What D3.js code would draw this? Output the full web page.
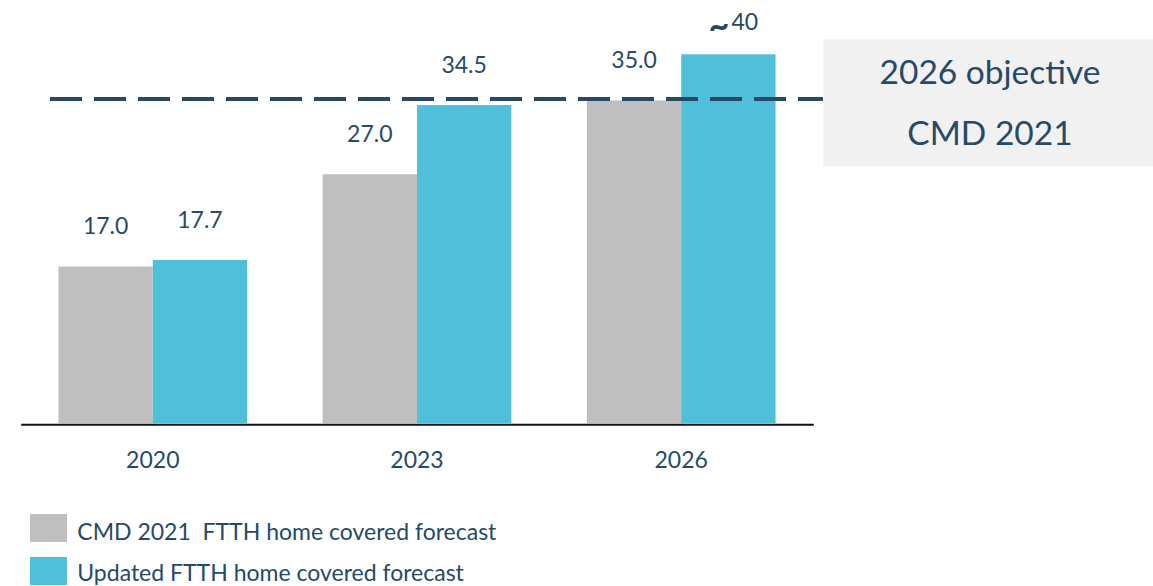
<!DOCTYPE html>
<html>
<head>
<meta charset="utf-8">
<script src="https://cdn.jsdelivr.net/npm/d3@7/dist/d3.min.js"></script>
<style>
  html, body { margin: 0; padding: 0; background: #fff; }
  svg { display: block; font-family: Lato, "Open Sans", sans-serif; }
</style>
</head>
<body>
<svg id="chart" width="1153" height="586"></svg>
<script>
// FTTH homes covered (millions), per year
const years = ["2020", "2023", "2026"];
const cmd2021 = [17.0, 27.0, 35.0];
const updated = [17.7, 34.5, 40];
const updatedLabels = ["17.7", "34.5", "40"];
const cmdLabels = ["17.0", "27.0", "35.0"];
const objective = 35.0;
const seriesNames = ["CMD 2021  FTTH home covered forecast", "Updated FTTH home covered forecast"];
const objectiveLines = ["2026 objective", "CMD 2021"];

const colors = { cmd: "#bfbfbf", upd: "#50bfda", text: "#264a66", dash: "#264a66", box: "#f1f1f1" };

const svg = d3.select("#chart");

const x = d3.scaleBand().domain(years).range([20.7, 813.3]).paddingInner(0.286).paddingOuter(0.143);
const xs = d3.scaleBand().domain(["cmd", "upd"]).range([0, x.bandwidth()]).padding(0);
const y = d3.scaleLinear().domain([0, 40]).range([423.3, 54.3]);

const rows = years.map((yr, i) => ({
  year: yr,
  vals: [
    { key: "cmd", v: cmd2021[i], label: cmdLabels[i] },
    { key: "upd", v: updated[i], label: updatedLabels[i], approx: yr === "2026" }
  ]
}));

// bars
const g = svg.append("g");
const groups = g.selectAll("g.grp").data(rows).join("g")
  .attr("class", "grp")
  .attr("transform", d => `translate(${x(d.year)},0)`);

groups.selectAll("rect").data(d => d.vals).join("rect")
  .attr("x", d => xs(d.key))
  .attr("width", xs.bandwidth())
  .attr("y", d => y(d.v))
  .attr("height", d => y(0) - y(d.v))
  .attr("fill", d => colors[d.key]);

// value labels
groups.selectAll("text.val").data(d => d.vals).join("text")
  .attr("class", "val")
  .attr("text-anchor", "middle")
  .attr("font-size", 23)
  .attr("fill", colors.text)
  .each(function (d) {
    const t = d3.select(this);
    const cx = xs(d.key) + xs.bandwidth() / 2;
    if (d.approx) {
      // approximate value: tilde sits a little below the digits' mid-height
      t.attr("x", cx + 5).attr("y", y(d.v) - 24);
      t.append("tspan").attr("font-size", 36).attr("font-weight", "bold").attr("dy", 8).text("~");
      t.append("tspan").attr("dy", -8).attr("dx", 2).text(d.label);
    } else {
      t.attr("x", cx).attr("y", y(d.v) - 32).text(d.label);
    }
  });

// objective dashed line
svg.append("line")
  .attr("x1", 50).attr("x2", 823)
  .attr("y1", y(objective) - 1.5).attr("y2", y(objective) - 1.5)
  .attr("stroke", colors.dash)
  .attr("stroke-width", 4)
  .attr("stroke-dasharray", "32 12");

// objective box
const bx = svg.append("g");
bx.append("rect")
  .attr("x", 823.3).attr("y", 39.3)
  .attr("width", 1153 - 823.3).attr("height", 126.7)
  .attr("fill", colors.box);
bx.selectAll("text").data(objectiveLines).join("text")
  .attr("x", 990)
  .attr("y", (d, i) => 84.3 + i * 60.7)
  .attr("text-anchor", "middle")
  .attr("font-size", 33.5)
  .attr("fill", colors.text)
  .text(d => d);

// x axis
const xAxis = svg.append("g").attr("transform", `translate(0,${y(0) + 1})`)
  .call(d3.axisBottom(x).tickSize(0).tickPadding(0));
xAxis.select(".domain").attr("stroke", "#111").attr("stroke-width", 2);
xAxis.selectAll(".tick text")
  .attr("font-family", "Lato, 'Open Sans', sans-serif")
  .attr("font-size", 23)
  .attr("fill", colors.text)
  .attr("dy", null)
  .attr("y", 44);

// legend
const leg = svg.append("g");
const legItems = leg.selectAll("g").data(seriesNames).join("g")
  .attr("transform", (d, i) => `translate(30,${514 + i * 43})`);
legItems.append("rect")
  .attr("width", 37).attr("height", 28)
  .attr("fill", (d, i) => i === 0 ? colors.cmd : colors.upd);
legItems.append("text")
  .attr("x", 47.3).attr("y", (d, i) => i === 0 ? 26 : 24)
  .attr("font-size", 23)
  .attr("fill", colors.text)
  .attr("xml:space", "preserve")
  .style("white-space", "pre")
  .text(d => d);
</script>
</body>
</html>
